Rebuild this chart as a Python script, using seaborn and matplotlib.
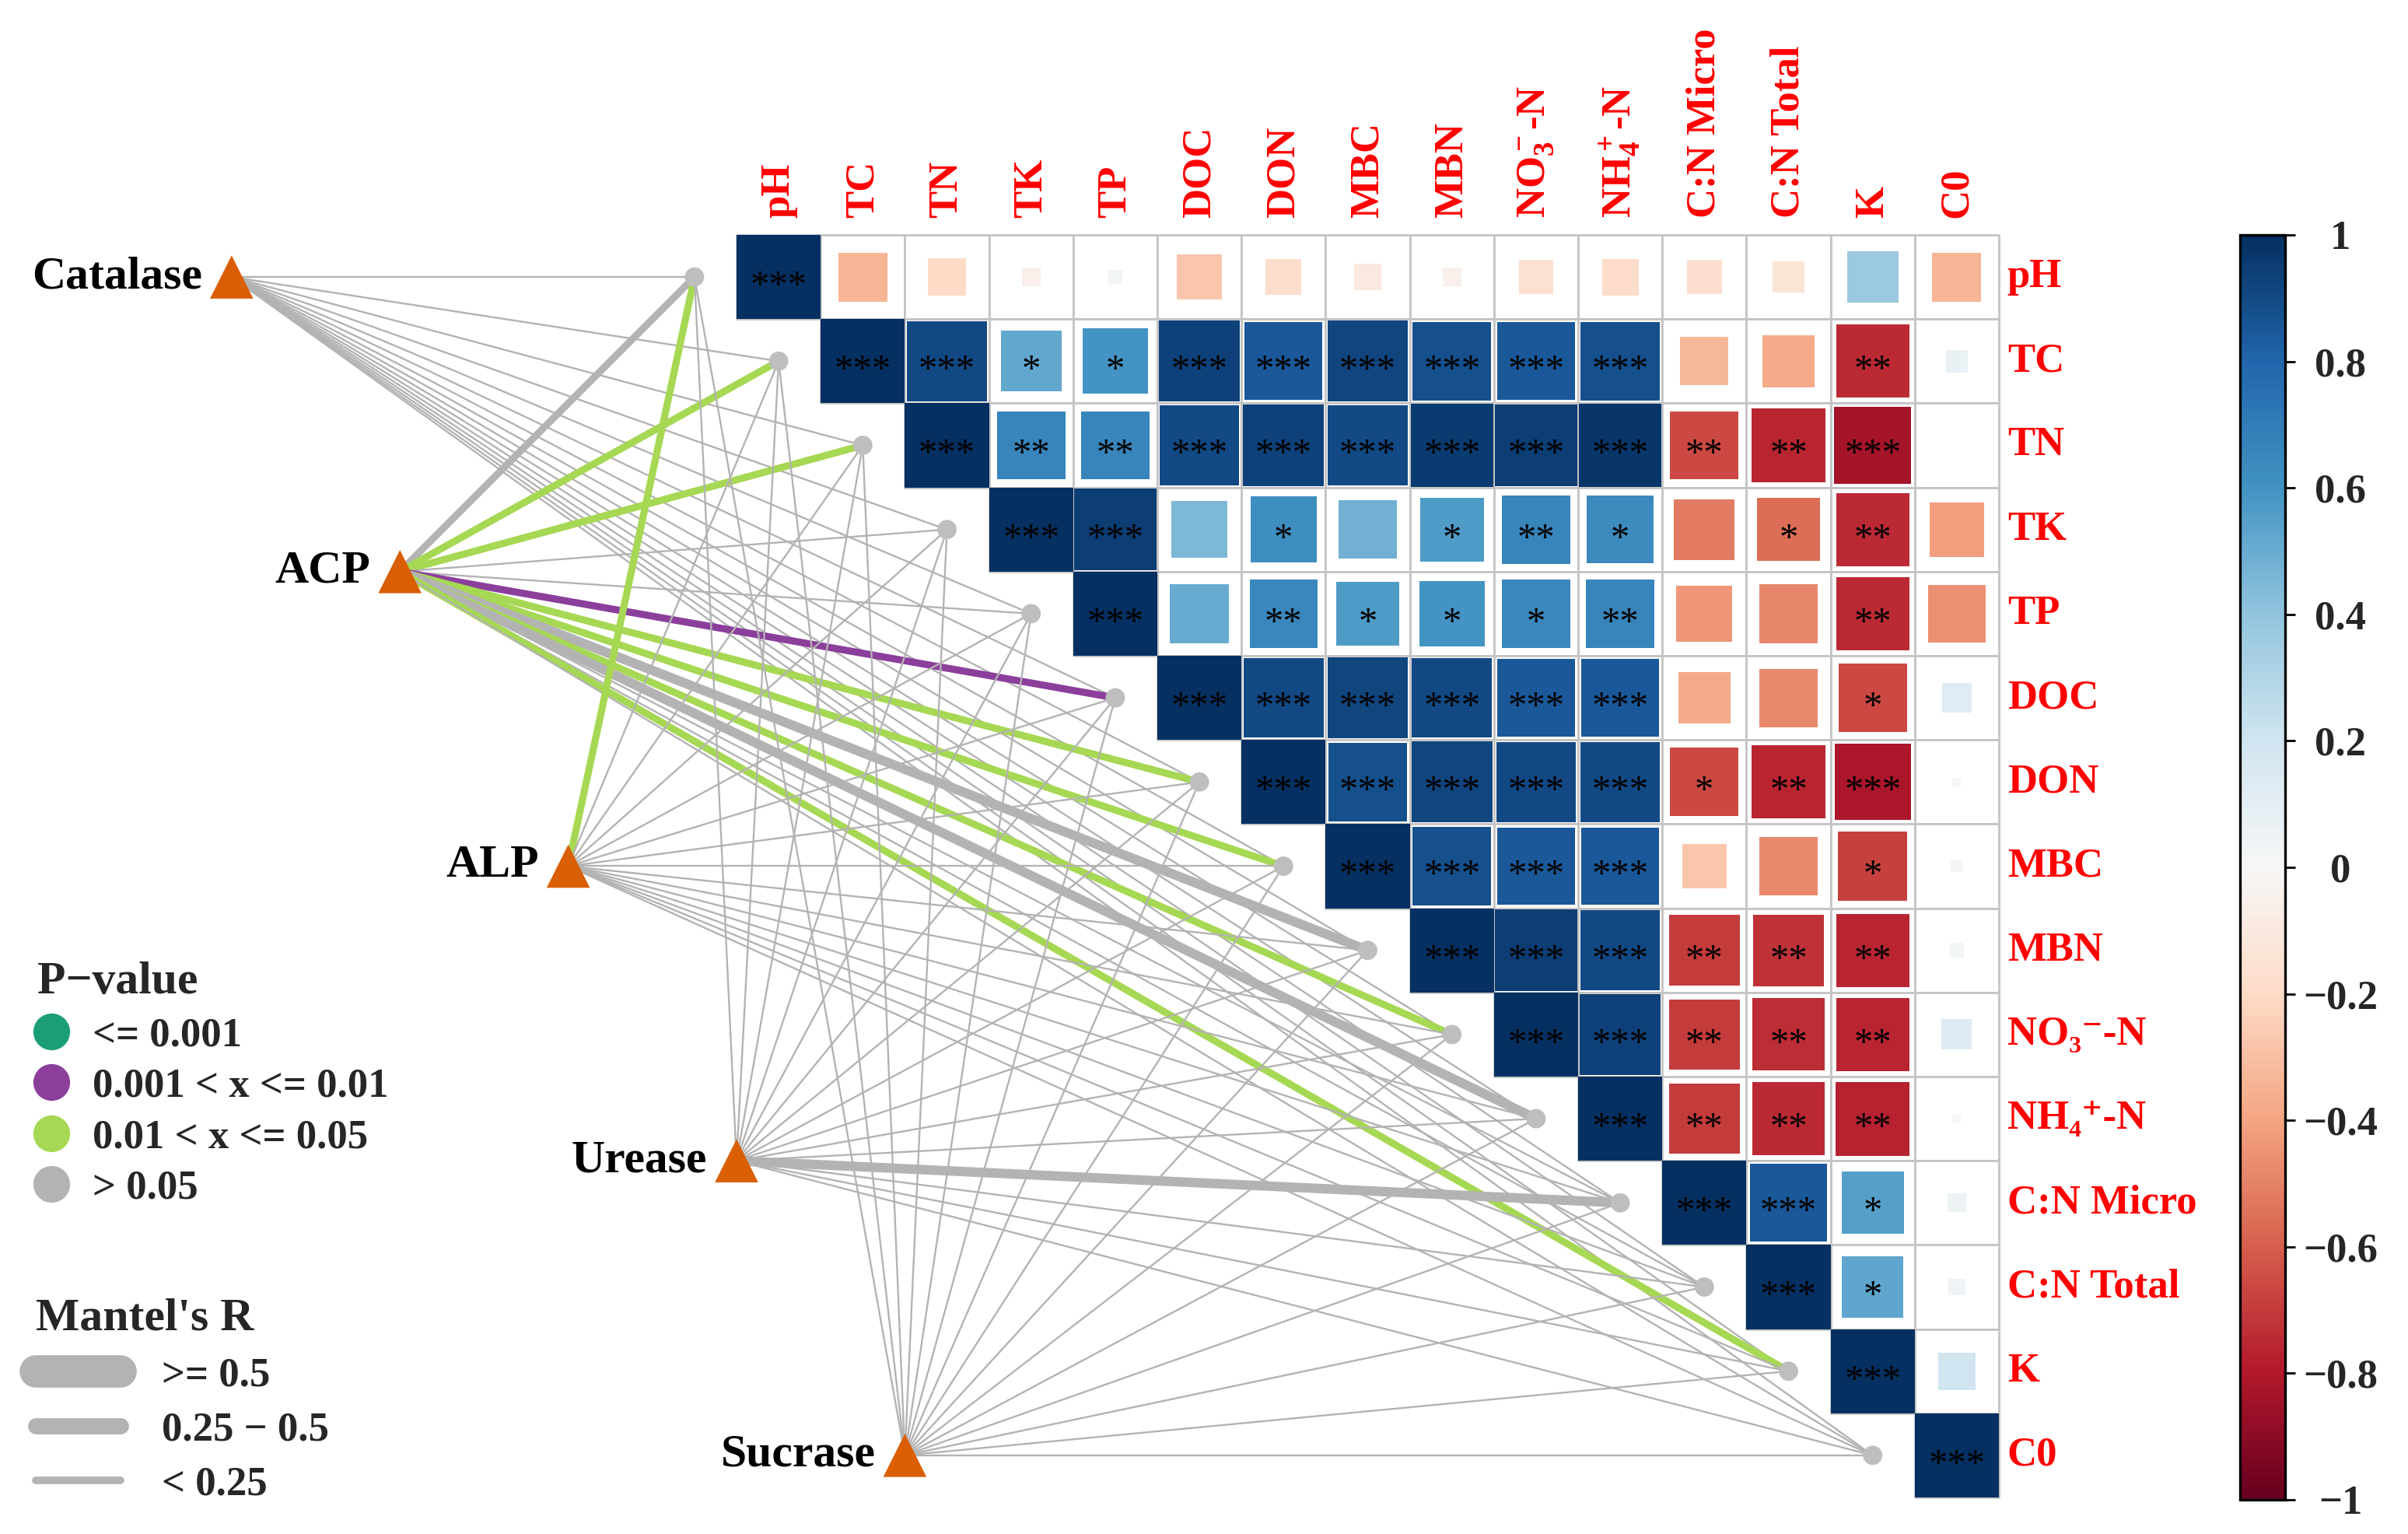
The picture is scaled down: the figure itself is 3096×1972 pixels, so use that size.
import numpy as np
import pandas as pd
import matplotlib
matplotlib.use("Agg")
import matplotlib.pyplot as plt
import seaborn as sns
from matplotlib.patches import Rectangle
from matplotlib.collections import PatchCollection, LineCollection
from matplotlib.lines import Line2D
import matplotlib.colors as mcolors
import matplotlib.cm as cm

# ---------------- data ----------------
variables = ["pH", "TC", "TN", "TK", "TP", "DOC", "DON", "MBC", "MBN",
             "NO\u2083\u207b-N", "NH\u2084\u207a-N", "C:N Micro", "C:N Total", "K", "C0"]
top_labels = ["pH", "TC", "TN", "TK", "TP", "DOC", "DON", "MBC", "MBN",
              r"NO$_3^-$-N", r"NH$_4^+$-N", "C:N Micro", "C:N Total", "K", "C0"]

# upper-triangle correlations, each row starts at the diagonal
r_pH  = [1.00, -0.34, -0.20, -0.05, 0.03, -0.28, -0.18, -0.10, -0.05, -0.16, -0.19, -0.17, -0.14, 0.37, -0.34]
r_TC  = [1.00, 0.90, 0.52, 0.60, 0.93, 0.85, 0.92, 0.88, 0.85, 0.88, -0.33, -0.38, -0.75, 0.07]
r_TN  = [1.00, 0.66, 0.66, 0.90, 0.93, 0.90, 0.96, 0.95, 0.97, -0.66, -0.76, -0.83, 0.00]
r_TK  = [1.00, 0.95, 0.45, 0.62, 0.48, 0.57, 0.66, 0.64, -0.52, -0.56, -0.75, -0.42]
r_TP  = [1.00, 0.50, 0.65, 0.57, 0.60, 0.65, 0.66, -0.44, -0.49, -0.75, -0.46]
r_DOC = [1.00, 0.90, 0.92, 0.90, 0.85, 0.85, -0.38, -0.48, -0.66, 0.12]
r_DON = [1.00, 0.88, 0.92, 0.90, 0.90, -0.66, -0.76, -0.82, 0.01]
r_MBC = [1.00, 0.88, 0.85, 0.85, -0.28, -0.48, -0.68, 0.02]
r_MBN = [1.00, 0.95, 0.90, -0.70, -0.72, -0.76, 0.03]
r_NO3 = [1.00, 0.93, -0.70, -0.74, -0.76, 0.13]
r_NH4 = [1.00, -0.70, -0.75, -0.77, 0.01]
r_CNm = [1.00, 0.85, 0.55, 0.05]
r_CNt = [1.00, 0.53, 0.04]
r_K   = [1.00, 0.20]
r_C0  = [1.00]
corr_rows = [r_pH, r_TC, r_TN, r_TK, r_TP, r_DOC, r_DON, r_MBC, r_MBN,
             r_NO3, r_NH4, r_CNm, r_CNt, r_K, r_C0]

s_pH  = ["***", "", "", "", "", "", "", "", "", "", "", "", "", "", ""]
s_TC  = ["***", "***", "*", "*", "***", "***", "***", "***", "***", "***", "", "", "**", ""]
s_TN  = ["***", "**", "**", "***", "***", "***", "***", "***", "***", "**", "**", "***", ""]
s_TK  = ["***", "***", "", "*", "", "*", "**", "*", "", "*", "**", ""]
s_TP  = ["***", "", "**", "*", "*", "*", "**", "", "", "**", ""]
s_DOC = ["***", "***", "***", "***", "***", "***", "", "", "*", ""]
s_DON = ["***", "***", "***", "***", "***", "*", "**", "***", ""]
s_MBC = ["***", "***", "***", "***", "", "", "*", ""]
s_MBN = ["***", "***", "***", "**", "**", "**", ""]
s_NO3 = ["***", "***", "**", "**", "**", ""]
s_NH4 = ["***", "**", "**", "**", ""]
s_CNm = ["***", "***", "*", ""]
s_CNt = ["***", "*", ""]
s_K   = ["***", ""]
s_C0  = ["***"]
star_rows = [s_pH, s_TC, s_TN, s_TK, s_TP, s_DOC, s_DON, s_MBC, s_MBN,
             s_NO3, s_NH4, s_CNm, s_CNt, s_K, s_C0]

enzymes = ["Catalase", "ACP", "ALP", "Urease", "Sucrase"]
# Mantel's r (enzyme x variable)
mr_Catalase = [0.12, 0.10, 0.08, 0.09, 0.11, 0.07, 0.10, 0.09, 0.08, 0.10, 0.11, 0.06, 0.05, 0.09, 0.08]
mr_ACP      = [0.35, 0.40, 0.38, 0.15, 0.18, 0.42, 0.36, 0.34, 0.55, 0.37, 0.52, 0.12, 0.10, 0.33, 0.08]
mr_ALP      = [0.32, 0.10, 0.09, 0.12, 0.11, 0.08, 0.07, 0.10, 0.09, 0.08, 0.07, 0.06, 0.05, 0.09, 0.10]
mr_Urease   = [0.08, 0.09, 0.07, 0.10, 0.11, 0.06, 0.08, 0.09, 0.07, 0.08, 0.10, 0.56, 0.12, 0.09, 0.05]
mr_Sucrase  = [0.06, 0.08, 0.07, 0.09, 0.10, 0.05, 0.07, 0.06, 0.08, 0.07, 0.09, 0.11, 0.10, 0.12, 0.08]
# Mantel's p
mp_Catalase = [0.45, 0.52, 0.61, 0.38, 0.47, 0.66, 0.55, 0.58, 0.62, 0.49, 0.51, 0.72, 0.80, 0.44, 0.57]
mp_ACP      = [0.08, 0.03, 0.04, 0.30, 0.25, 0.008, 0.03, 0.04, 0.07, 0.03, 0.09, 0.50, 0.60, 0.04, 0.70]
mp_ALP      = [0.02, 0.55, 0.60, 0.40, 0.45, 0.66, 0.70, 0.52, 0.58, 0.63, 0.71, 0.75, 0.80, 0.57, 0.50]
mp_Urease   = [0.62, 0.58, 0.66, 0.48, 0.44, 0.73, 0.61, 0.57, 0.68, 0.64, 0.50, 0.12, 0.42, 0.55, 0.78]
mp_Sucrase  = [0.74, 0.63, 0.69, 0.55, 0.49, 0.81, 0.70, 0.76, 0.65, 0.71, 0.58, 0.46, 0.52, 0.40, 0.66]
mantel_r = [mr_Catalase, mr_ACP, mr_ALP, mr_Urease, mr_Sucrase]
mantel_p = [mp_Catalase, mp_ACP, mp_ALP, mp_Urease, mp_Sucrase]

p_labels = ["<= 0.001", "0.001 < x <= 0.01", "0.01 < x <= 0.05", "> 0.05"]
r_labels = [">= 0.5", "0.25 \u2212 0.5", "< 0.25"]
cbar_ticks = [1.0, 0.8, 0.6, 0.4, 0.2, 0.0, -0.2, -0.4, -0.6, -0.8, -1.0]
cbar_ticklabels = ["1", "0.8", "0.6", "0.4", "0.2", "0", "\u22120.2", "\u22120.4", "\u22120.6", "\u22120.8", "\u22121"]

# ---------------- style ----------------
sns.set_theme(style="white")
SERIF = ["Liberation Serif", "DejaVu Serif"]
plt.rcParams["font.family"] = SERIF
plt.rcParams["mathtext.fontset"] = "custom"
plt.rcParams["mathtext.rm"] = "Liberation Serif:bold"
plt.rcParams["mathtext.it"] = "Liberation Serif:italic:bold"
plt.rcParams["mathtext.bf"] = "Liberation Serif:bold"

p_colors = ["#1B9E77", "#8B3F9B", "#A6D854", "#B3B3B3"]
w_thick, w_mid, w_thin = 4.4, 3.3, 0.85
cmap = plt.get_cmap("RdBu")
norm = mcolors.Normalize(-1, 1)

W, H, DPI = 3096, 1972, 200
fig = plt.figure(figsize=(W / DPI, H / DPI), dpi=DPI)
ax = fig.add_axes([0, 0, 1, 1])
X0, Y0, C = 947.0, 302.0, 108.2
n = len(variables)

# ---------------- matrix ----------------
borders, squares, sq_colors = [], [], []
for i, row in enumerate(corr_rows):
    for k, r in enumerate(row):
        j = i + k
        borders.append(Rectangle((j, i), 1, 1))
        side = np.sqrt(abs(r))
        squares.append(Rectangle((j + 0.5 - side / 2, i + 0.5 - side / 2), side, side))
        sq_colors.append(cmap(norm(r)))
        st = star_rows[i][k]
        if st:
            ax.text(j + 0.5, i + 0.5 + 0.23, st, ha="center", va="baseline",
                    fontsize=17.5, color="black", zorder=4)
ax.add_collection(PatchCollection(borders, facecolor="white", edgecolor="#C4C4C4",
                                  linewidth=1.0, zorder=1))
ax.add_collection(PatchCollection(squares, facecolor=sq_colors, edgecolor="none", zorder=2))

for j, lab in enumerate(top_labels):
    ax.text(j + 0.5, -0.2, lab, rotation=90, ha="center", va="bottom",
            color="red", fontsize=19, fontweight="bold")
for i, lab in enumerate(variables):
    ax.text(15.1, i + 0.5, lab, ha="left", va="center", color="red",
            fontsize=19, fontweight="bold", family=SERIF)

# ---------------- Mantel links ----------------
node_u = np.linspace(-6, 2, len(enzymes))
node_v = np.linspace(0.5, 14.5, len(enzymes))
end_u = np.arange(n) - 0.5
end_v = np.arange(n) + 0.5

def p_cat(p):
    if p <= 0.001:
        return 0
    if p <= 0.01:
        return 1
    if p <= 0.05:
        return 2
    return 3

def r_w(r):
    if r >= 0.5:
        return w_thick
    if r >= 0.25:
        return w_mid
    return w_thin

segs, cols, lws = [], [], []
for a in range(len(enzymes)):
    for j in range(n):
        segs.append([(node_u[a], node_v[a]), (end_u[j], end_v[j])])
        cols.append(p_colors[p_cat(mantel_p[a][j])])
        lws.append(r_w(mantel_r[a][j]))
ax.add_collection(LineCollection(segs, colors=cols, linewidths=lws,
                                 capstyle="butt", zorder=3))

ends = pd.DataFrame({"u": end_u, "v": end_v})
sns.scatterplot(data=ends, x="u", y="v", color="#BEBEBE", s=80, edgecolor="none",
                zorder=5, ax=ax, legend=False)
nodes = pd.DataFrame({"u": node_u, "v": node_v, "name": enzymes})
sns.scatterplot(data=nodes, x="u", y="v", marker="^", color="#D95F02", s=400,
                edgecolor="none", zorder=6, ax=ax, legend=False)
for u, v, name in zip(node_u, node_v, enzymes):
    ax.text(u - 0.35, v, name, ha="right", va="center", fontsize=21.5,
            fontweight="bold", color="black")

ax.set_xlim(-X0 / C, (W - X0) / C)
ax.set_ylim((H - Y0) / C, -Y0 / C)
ax.set_aspect("auto")
ax.axis("off")

# ---------------- legends ----------------
lab_font = dict(family=SERIF, weight="bold", size=19)
tit_font = dict(family=SERIF, weight="bold", size=21.5)
h1 = [Line2D([], [], marker="o", ls="none", markerfacecolor=c, markeredgecolor=c,
             markersize=16) for c in p_colors]
leg1 = ax.legend(h1, p_labels, title="P\u2212value", loc="upper left",
                 bbox_to_anchor=(48 / W, 1 - 1236 / H), bbox_transform=fig.transFigure,
                 frameon=False, prop=lab_font, title_fontproperties=tit_font,
                 alignment="left", borderpad=0, borderaxespad=0, handlelength=0.68,
                 handletextpad=0.66, labelspacing=0.33)
ax.add_artist(leg1)
h2 = [Line2D([], [], color="#B3B3B3", lw=lw, solid_capstyle="round")
      for lw in (15.0, 7.5, 3.5)]
leg2 = ax.legend(h2, r_labels, title="Mantel's R", loc="upper left",
                 bbox_to_anchor=(46 / W, 1 - 1668 / H), bbox_transform=fig.transFigure,
                 frameon=False, prop=lab_font, title_fontproperties=tit_font,
                 alignment="left", borderpad=0, borderaxespad=0, handlelength=2.06,
                 handletextpad=1.0, labelspacing=0.42)

# ---------------- colorbar ----------------
cax = fig.add_axes([2880 / W, 1 - 1928 / H, 58 / W, 1626 / H])
sm = cm.ScalarMappable(norm=norm, cmap=cmap)
cb = fig.colorbar(sm, cax=cax)
cb.set_ticks(cbar_ticks, labels=cbar_ticklabels)
cb.outline.set_edgecolor("black")
cb.outline.set_linewidth(1.2)
cax.tick_params(axis="y", direction="out", length=4.7, width=1.0, color="black",
                pad=21, labelsize=19, right=True, left=False)
for t in cax.get_yticklabels():
    t.set_ha("center")
    t.set_fontweight("bold")
    t.set_family(SERIF)

fig.savefig("out.png", dpi=DPI, facecolor="white")
